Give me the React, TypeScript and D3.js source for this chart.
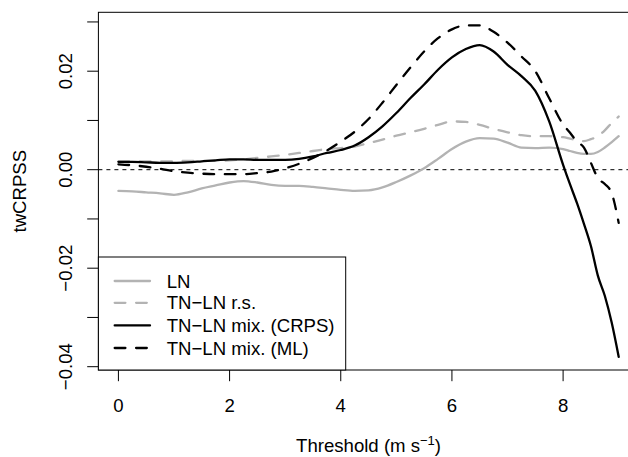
import React from "react";
import * as d3 from "d3";

const thresholds = [
  0, 0.25, 0.5, 0.75, 1, 1.25, 1.5, 1.75, 2, 2.25, 2.5, 2.75, 3, 3.25, 3.5, 3.75,
  4, 4.25, 4.5, 4.75, 5, 5.25, 5.5, 5.75, 6, 6.25, 6.5, 6.75, 7, 7.25, 7.5, 7.75,
  8, 8.125, 8.25, 8.375, 8.5, 8.625, 8.75, 8.875, 9,
];

const lnValues = [
  -0.0043, -0.0044, -0.0046, -0.0048, -0.0051, -0.0046, -0.0038, -0.0032, -0.0026, -0.0023,
  -0.0026, -0.0031, -0.0033, -0.0033, -0.0035, -0.0038, -0.0041, -0.0043, -0.0042, -0.0036,
  -0.0025, -0.0012, 0.0003, 0.0022, 0.0042, 0.0057, 0.0064, 0.0063, 0.0055, 0.0045,
  0.0044, 0.0045, 0.0042, 0.0038, 0.0034, 0.0032, 0.0032, 0.0036, 0.0045, 0.0056, 0.0068,
];

const tnlnRsValues = [
  0.0017, 0.0017, 0.0017, 0.0017, 0.0017, 0.0018, 0.0018, 0.0018, 0.0019, 0.0021,
  0.0024, 0.0027, 0.003, 0.0034, 0.0038, 0.0042, 0.0044, 0.0047, 0.0054, 0.0061,
  0.0069, 0.0076, 0.0083, 0.0091, 0.0098, 0.0097, 0.0091, 0.0083, 0.0076, 0.007,
  0.0068, 0.0068, 0.0066, 0.0063, 0.006, 0.0058, 0.0062, 0.0068, 0.008, 0.0095, 0.0108,
];

const mixCrpsValues = [
  0.0016, 0.0016, 0.0015, 0.0014, 0.0014, 0.0015, 0.0017, 0.0019, 0.0021, 0.0021,
  0.002, 0.002, 0.002, 0.0022, 0.0027, 0.0034, 0.004, 0.0049, 0.0066, 0.0088,
  0.0115, 0.0145, 0.0173, 0.0203, 0.0228, 0.0245, 0.0253, 0.024, 0.0213, 0.019,
  0.016, 0.0098, 0.001, -0.003, -0.0068, -0.011, -0.0155, -0.0215, -0.0256, -0.0311, -0.038,
];

const mixMlValues = [
  0.0011, 0.0009, 0.0006, 0.0002, -0.0003, -0.0006, -0.0008, -0.0009, -0.0009, -0.0009,
  -0.0007, -0.0004, 0.0003, 0.0012, 0.0024, 0.0039, 0.0057, 0.0077, 0.0103, 0.0136,
  0.0172, 0.0207, 0.024, 0.0267, 0.0285, 0.0293, 0.0293, 0.028, 0.0258, 0.023,
  0.02, 0.0145, 0.0092, 0.0075, 0.0057, 0.0045, 0.0014, -0.0017, -0.0029, -0.0048, -0.0108,
];

const seriesNames = ["LN", "TN\u2212LN r.s.", "TN\u2212LN mix. (CRPS)", "TN\u2212LN mix. (ML)"];
const seriesColors = ["#b3b3b3", "#b3b3b3", "#000000", "#000000"];
const seriesDashed = [false, true, false, true];
const seriesValues = [lnValues, tnlnRsValues, mixCrpsValues, mixMlValues];

const xTicks = [0, 2, 4, 6, 8];
const yTicks = [-0.04, -0.03, -0.02, -0.01, 0, 0.01, 0.02, 0.03];
const yTickLabels = [-0.04, -0.02, 0, 0.02];

export default function App() {
  const W = 628;
  const H = 457;
  const left = 98.4;
  const right = 638.7;
  const top = 12.3;
  const bottom = 370;
  const fs = 18.6;
  const font = "'Liberation Sans', Arial, Helvetica, sans-serif";

  const x = d3.scaleLinear().domain([-0.36, 9.36]).range([left, right]);
  const y = d3.scaleLinear().domain([-0.04067, 0.03196]).range([bottom, top]);

  const line = d3
    .line<number>()
    .x((_, i) => x(thresholds[i]))
    .y((d) => y(d))
    .curve(d3.curveMonotoneX);

  const lw = 2.3;
  const dash = "10.7,10.7";

  const legTop = 257;
  const legRight = 345.7;
  const legRows = [281, 302.8, 325.4, 348];

  return (
    <svg
      width={W}
      height={H}
      style={{ position: "absolute", left: 0, top: 0, background: "#fff" }}
      fontFamily={font}
    >
      <rect x={0} y={0} width={W} height={H} fill="#fff" />
      <defs>
        <clipPath id="plotclip">
          <rect x={left} y={top} width={right - left} height={bottom - top} />
        </clipPath>
      </defs>
      {/* zero reference line */}
      <line
        x1={left}
        x2={right}
        y1={y(0)}
        y2={y(0)}
        stroke="#000"
        strokeWidth={1}
        strokeDasharray="4,4"
      />
      <g clipPath="url(#plotclip)">
        {seriesValues.map((vals, i) => (
          <path
            key={i}
            d={line(vals) || ""}
            fill="none"
            stroke={seriesColors[i]}
            strokeWidth={lw}
            strokeDasharray={seriesDashed[i] ? dash : undefined}
            strokeLinecap="round"
            strokeLinejoin="round"
          />
        ))}
      </g>
      {/* plot box */}
      <rect
        x={left}
        y={top}
        width={right - left}
        height={bottom - top}
        fill="none"
        stroke="#000"
        strokeWidth={1}
      />
      {/* x axis */}
      {xTicks.map((t) => (
        <g key={t}>
          <line x1={x(t)} x2={x(t)} y1={bottom} y2={bottom + 11.2} stroke="#000" strokeWidth={1} />
          <text x={x(t)} y={411.5} fontSize={fs} textAnchor="middle">
            {t}
          </text>
        </g>
      ))}
      {/* y axis */}
      {yTicks.map((t) => (
        <line key={t} x1={left} x2={left - 11.2} y1={y(t)} y2={y(t)} stroke="#000" strokeWidth={1} />
      ))}
      {yTickLabels.map((t) => (
        <text
          key={t}
          transform={`translate(72,${y(t)}) rotate(-90)`}
          fontSize={fs}
          textAnchor="middle"
        >
          {t < 0 ? "\u2212" + Math.abs(t).toFixed(2) : t.toFixed(2)}
        </text>
      ))}
      {/* axis titles */}
      <text x={(left + right) / 2} y={452} fontSize={fs} textAnchor="middle">
        Threshold (m s
        <tspan fontSize={13} dy={-7.5}>
          {"\u22121"}
        </tspan>
        <tspan dy={7.5}>)</tspan>
      </text>
      <text
        transform={`translate(26,${(top + bottom) / 2}) rotate(-90)`}
        fontSize={fs}
        textAnchor="middle"
      >
        twCRPSS
      </text>
      {/* legend */}
      <rect
        x={left}
        y={legTop}
        width={legRight - left}
        height={bottom - legTop}
        fill="#fff"
        stroke="#000"
        strokeWidth={1}
      />
      {seriesNames.map((name, i) => (
        <g key={name}>
          <line
            x1={114.7}
            x2={150}
            y1={legRows[i]}
            y2={legRows[i]}
            stroke={seriesColors[i]}
            strokeWidth={lw}
            strokeDasharray={seriesDashed[i] ? dash : undefined}
            strokeLinecap="round"
          />
          <text x={166.7} y={legRows[i] + 6.6} fontSize={fs}>
            {name}
          </text>
        </g>
      ))}
    </svg>
  );
}
